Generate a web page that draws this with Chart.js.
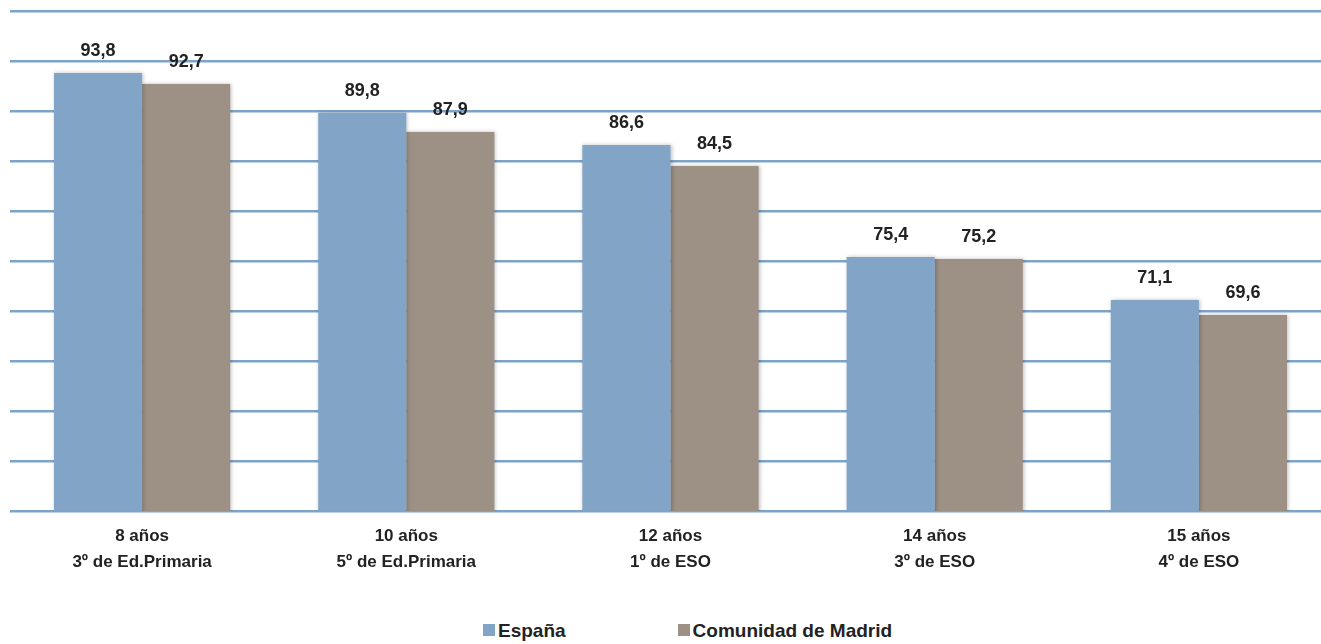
<!DOCTYPE html>
<html>
<head>
<meta charset="utf-8">
<script src="https://cdn.jsdelivr.net/npm/chart.js@4"></script>
<style>
  body { margin: 0; background: #fff; overflow: hidden; width: 1321px; height: 644px; position: relative; }
  #wrap { position: absolute; left: 0; top: 0; width: 1331px; height: 590px; }
  #legend { position: absolute; top: 620px; left: 483px; font: bold 19px "Liberation Sans Narrow", "Liberation Sans", Arial, sans-serif; color: #222; white-space: nowrap; }
  #legend span.box { display: inline-block; width: 12px; height: 12px; margin-right: 3px; vertical-align: 1px; }
  #legend span.item { margin-right: 112px; }
</style>
</head>
<body>
<div id="wrap"><canvas id="c"></canvas></div>
<div id="legend"></div>
<script>
const categories = [
    ["8 años", "3º de Ed.Primaria"],
    ["10 años", "5º de Ed.Primaria"],
    ["12 años", "1º de ESO"],
    ["14 años", "3º de ESO"],
    ["15 años", "4º de ESO"]
];
const seriesNames = ["España", "Comunidad de Madrid"];
const espana = [93.8, 89.8, 86.6, 75.4, 71.1];
const madrid = [92.7, 87.9, 84.5, 75.2, 69.6];
const colors = ["#82a5c7", "#9d9085"];

const font = "'Liberation Sans Narrow', 'Liberation Sans', Arial, sans-serif";

/* value labels above bars */
const valueLabels = {
    id: "valueLabels",
    afterDatasetsDraw(chart) {
        const ctx = chart.ctx;
        ctx.save();
        ctx.font = "bold 18px " + font;
        ctx.fillStyle = "#222";
        ctx.textAlign = "center";
        ctx.textBaseline = "middle";
        chart.data.datasets.forEach((ds, i) => {
            chart.getDatasetMeta(i).data.forEach((bar, j) => {
                ctx.fillText(ds.data[j].toFixed(1).replace(".", ","), bar.x, bar.y - 22);
            });
        });
        ctx.restore();
    }
};

/* soft shadow under bars */
const barShadow = {
    id: "barShadow",
    beforeDatasetsDraw(chart) {
        const ctx = chart.ctx;
        ctx.save();
        ctx.shadowColor = "rgba(0,0,0,0.25)";
        ctx.shadowBlur = 4;
        ctx.shadowOffsetX = 1;
        ctx.shadowOffsetY = 0;
    },
    afterDatasetsDraw(chart) {
        chart.ctx.restore();
    }
};

new Chart(document.getElementById("c"), {
    type: "bar",
    data: {
        labels: categories,
        datasets: [
            { label: seriesNames[0], data: espana, backgroundColor: colors[0] },
            { label: seriesNames[1], data: madrid, backgroundColor: colors[1] }
        ]
    },
    options: {
        responsive: true,
        maintainAspectRatio: false,
        animation: false,
        layout: { padding: { left: 10, top: 11, right: 0, bottom: 0 } },
        plugins: { legend: { display: false }, tooltip: { enabled: false } },
        datasets: { bar: { categoryPercentage: 0.667, barPercentage: 1 } },
        scales: {
            x: {
                grid: { display: false },
                border: { display: false },
                ticks: { color: "#222", font: { family: font, size: 17, weight: "bold", lineHeight: 1.5 }, padding: 5, maxRotation: 0 },
                afterFit: s => { s.height = 79; }
            },
            y: {
                min: 50,
                max: 100,
                ticks: { display: false, stepSize: 5 },
                border: { display: false },
                grid: { color: "#7ea3c9", lineWidth: 2.5, drawTicks: false },
                afterFit: s => { s.width = 0; }
            }
        }
    },
    plugins: [barShadow, valueLabels]
});

const legend = document.getElementById("legend");
seriesNames.forEach((n, i) => {
    const item = document.createElement("span");
    item.className = "item";
    item.innerHTML = '<span class="box" style="background:' + colors[i] + '"></span>' + n;
    legend.appendChild(item);
});
</script>
</body>
</html>
